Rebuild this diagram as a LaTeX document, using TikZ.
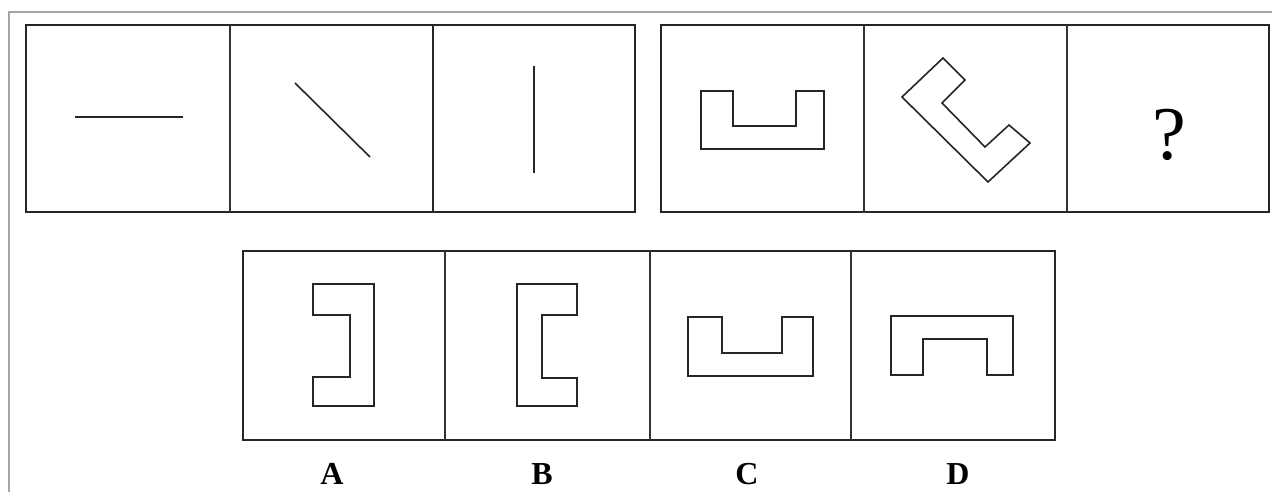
\documentclass[tikz,border=0pt]{standalone}
\usepackage{fontspec}
\setmainfont{Liberation Serif}
\begin{document}
\begin{tikzpicture}[x=1pt,y=-1pt,
  frame/.style={draw=black!35,line width=1.2pt},
  cellbox/.style={draw=black!85,line width=2pt},
  divider/.style={draw=black!80,line width=1.4pt},
  figline/.style={draw=black!85,line width=1.6pt,line join=miter},
  optlabel/.style={font=\fontsize{32}{32}\selectfont\bfseries,anchor=base,inner sep=0pt,text depth=0pt}]
\useasboundingbox (0,0) rectangle (1272,492);
\fill[white] (0,0) rectangle (1272,492);
% outer light frame
\draw[frame] (9,492) -- (9,12) -- (1272,12);
% top-left group
\draw[cellbox] (26,25) rectangle (635,212);
\draw[divider] (230,25) -- (230,212);
\draw[cellbox] (433,25) -- (433,212);
% top-right group
\draw[cellbox] (661,25) rectangle (1269,212);
\draw[divider] (864,25) -- (864,212);
\draw[divider] (1067,25) -- (1067,212);
% bottom group
\draw[cellbox] (243,251) rectangle (1055,440);
\draw[divider] (445,251) -- (445,440);
\draw[divider] (650,251) -- (650,440);
\draw[divider] (851,251) -- (851,440);
% cell 1-3 lines
\draw[figline] (75,117) -- (183,117);
\draw[figline] (295,83) -- (370,157);
\draw[figline] (534,66) -- (534,173);
% cell 4: U
\draw[figline] (701,91) -- (733,91) -- (733,126) -- (796,126) -- (796,91) -- (824,91) -- (824,149) -- (701,149) -- cycle;
% cell 5: rotated U
\draw[figline] (943,58) -- (965,80) -- (942,103) -- (985,147) -- (1009,125) -- (1030,143) -- (988,182) -- (902,97) -- cycle;
% cell 6: question mark
\node[font=\fontsize{76}{76}\selectfont,anchor=base,inner sep=0pt,text depth=0pt] (q) at (1169,160) {?};
% option A
\draw[figline] (313,284) -- (374,284) -- (374,406) -- (313,406) -- (313,377) -- (350,377) -- (350,315) -- (313,315) -- cycle;
% option B
\draw[figline] (517,284) -- (577,284) -- (577,315) -- (542,315) -- (542,378) -- (577,378) -- (577,406) -- (517,406) -- cycle;
% option C
\draw[figline] (688,317) -- (722,317) -- (722,353) -- (782,353) -- (782,317) -- (813,317) -- (813,376) -- (688,376) -- cycle;
% option D
\draw[figline] (891,316) -- (1013,316) -- (1013,375) -- (987,375) -- (987,339) -- (923,339) -- (923,375) -- (891,375) -- cycle;
% labels
\node[optlabel] (la) at (332,484) {A};
\node[optlabel] (lb) at (542,484) {B};
\node[optlabel] (lc) at (747,484) {C};
\node[optlabel] (ld) at (958,484) {D};
\end{tikzpicture}
\end{document}
